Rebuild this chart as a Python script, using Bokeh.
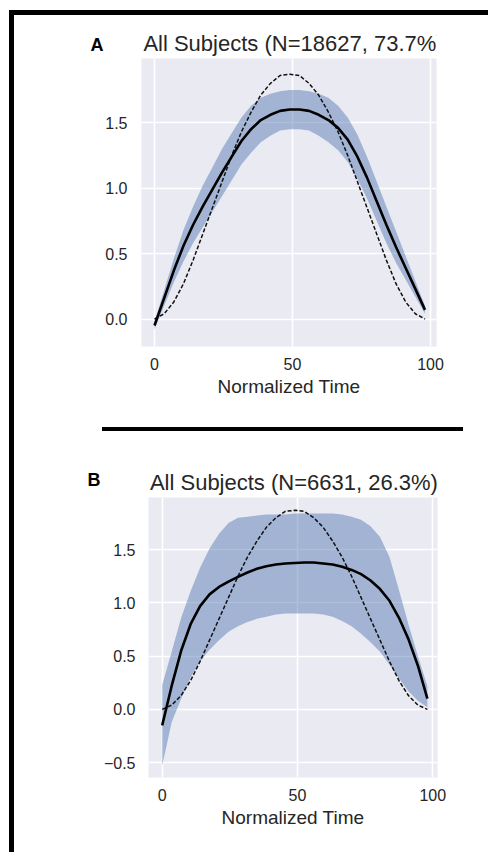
from bokeh.plotting import figure
from bokeh.models import Range1d, Label, Div, Spacer, FixedTicker, PrintfTickFormatter
from bokeh.layouts import column, row
from bokeh.embed import file_html
from bokeh.resources import INLINE

# ---------------- data ----------------
x = [0, 3.5, 7, 10.5, 14, 17.5, 21, 24.5, 28, 31.5, 35, 38.5, 42, 45.5, 49,
     52.5, 56, 59.5, 63, 66.5, 70, 73.5, 77, 80.5, 84, 87.5, 91, 94.5, 98]

# dashed reference profile (same in both panels)
reference = [0.00, 0.04, 0.13, 0.27, 0.45, 0.65, 0.85, 1.05, 1.25, 1.43, 1.58, 1.71, 1.80, 1.86, 1.87,
             1.86, 1.80, 1.71, 1.58, 1.43, 1.25, 1.05, 0.85, 0.65, 0.45, 0.27, 0.13, 0.04, 0.00]

# panel A
mean_a = [-0.05, 0.16, 0.37, 0.56, 0.72, 0.86, 0.99, 1.12, 1.24, 1.36, 1.45, 1.52, 1.56, 1.59, 1.60,
          1.60, 1.59, 1.56, 1.52, 1.46, 1.37, 1.24, 1.08, 0.90, 0.72, 0.55, 0.39, 0.23, 0.07]
upper_a = [-0.02, 0.22, 0.46, 0.68, 0.86, 1.02, 1.16, 1.30, 1.42, 1.54, 1.63, 1.69, 1.72, 1.74, 1.75,
           1.75, 1.74, 1.72, 1.69, 1.63, 1.54, 1.41, 1.24, 1.05, 0.86, 0.67, 0.48, 0.29, 0.10]
lower_a = [-0.08, 0.10, 0.28, 0.44, 0.58, 0.70, 0.82, 0.94, 1.06, 1.18, 1.27, 1.35, 1.40, 1.44, 1.45,
           1.45, 1.44, 1.40, 1.35, 1.29, 1.20, 1.07, 0.92, 0.75, 0.58, 0.43, 0.30, 0.17, 0.04]

# panel B
mean_b = [-0.15, 0.22, 0.55, 0.80, 0.97, 1.08, 1.15, 1.20, 1.245, 1.285, 1.32, 1.345, 1.36, 1.37, 1.375,
          1.38, 1.38, 1.37, 1.36, 1.34, 1.31, 1.27, 1.21, 1.13, 1.02, 0.86, 0.66, 0.41, 0.10]
upper_b = [0.23, 0.54, 0.86, 1.11, 1.33, 1.51, 1.65, 1.75, 1.80, 1.81, 1.82, 1.83, 1.83, 1.83, 1.84,
           1.84, 1.84, 1.84, 1.84, 1.83, 1.81, 1.78, 1.72, 1.62, 1.43, 1.12, 0.80, 0.50, 0.22]
lower_b = [-0.53, -0.12, 0.10, 0.30, 0.45, 0.56, 0.65, 0.73, 0.78, 0.82, 0.85, 0.87, 0.89, 0.90, 0.90,
           0.90, 0.90, 0.89, 0.87, 0.83, 0.78, 0.71, 0.63, 0.54, 0.42, 0.29, 0.17, 0.08, 0.02]

x_ticks = [0, 50, 100]
y_ticks_a = [0.0, 0.5, 1.0, 1.5]
y_tick_labels_a = ["0.0", "0.5", "1.0", "1.5"]
y_ticks_b = [-0.5, 0.0, 0.5, 1.0, 1.5]
y_tick_labels_b = ["\u22120.5", "0.0", "0.5", "1.0", "1.5"]

title_a = "All Subjects (N=18627, 73.7%)"
title_b = "All Subjects (N=6631, 26.3%)"
letters = ["A", "B"]
x_label = "Normalized Time"

# ---------------- styling / geometry ----------------
FONT = "Liberation Sans"
TXT = "#262626"
BG = "#EAEAF2"
BAND = "#4C72B0"
W = 474          # inner column width


def header(height, bl, br, title, title_x, title_y, letter, letter_y, letter_standoff):
    fw = W - bl - br
    h = figure(width=W, height=height, x_range=Range1d(0, fw), y_range=Range1d(0, height),
               min_border_left=bl, min_border_right=br, min_border_top=0, min_border_bottom=0,
               title=None, x_axis_location=None, y_axis_location="left",
               output_backend="svg", toolbar_location=None,
               background_fill_color="white", border_fill_color="white",
               outline_line_color=None)
    h.grid.visible = False
    ax = h.yaxis[0]
    ax.ticker = FixedTicker(ticks=[letter_y])
    ax.major_label_overrides = {letter_y: letter}
    ax.axis_line_color = None
    ax.major_tick_line_color = None
    ax.minor_tick_line_color = None
    ax.major_tick_out = 0
    ax.major_tick_in = 0
    ax.major_label_standoff = letter_standoff
    ax.major_label_text_font = FONT
    ax.major_label_text_font_size = "18px"
    ax.major_label_text_font_style = "bold"
    ax.major_label_text_color = "black"
    h.add_layout(Label(x=title_x, y=title_y, text=title, text_align="center",
                       text_baseline="middle", text_font=FONT,
                       text_font_size="22px", text_color=TXT))
    return h


def panel(mean, upper, lower, yticks, ylabels, *, height, bl, br, mb_bottom, xr, yr, ystand):
    p = figure(width=W, height=height, min_border_left=bl, min_border_right=br,
               min_border_top=0, min_border_bottom=mb_bottom, title=None,
               x_range=Range1d(*xr), y_range=Range1d(*yr),
               output_backend="svg", toolbar_location=None,
               background_fill_color=BG, border_fill_color="white",
               outline_line_color=None)
    p.varea(x=x, y1=lower, y2=upper, fill_color=BAND, fill_alpha=0.45)
    p.line(x, reference, line_color="#111111", line_width=1.5, line_dash="4 2")
    p.line(x, mean, line_color="black", line_width=2.6)

    p.xaxis.ticker = FixedTicker(ticks=x_ticks)
    p.yaxis.ticker = FixedTicker(ticks=yticks)
    p.yaxis.formatter = PrintfTickFormatter(format="%.1f")
    p.yaxis.major_label_overrides = dict(zip(yticks, ylabels))
    for ax in (p.xaxis, p.yaxis):
        ax.axis_line_color = None
        ax.major_tick_line_color = None
        ax.minor_tick_line_color = None
        ax.major_tick_out = 0
        ax.major_tick_in = 0
        ax.major_label_text_font = FONT
        ax.major_label_text_font_size = "16px"
        ax.major_label_text_color = TXT
    p.xaxis.major_label_standoff = 11
    p.yaxis.major_label_standoff = ystand
    p.xaxis.axis_label = x_label
    p.xaxis.axis_label_text_font = FONT
    p.xaxis.axis_label_text_font_size = "19px"
    p.xaxis.axis_label_text_font_style = "normal"
    p.xaxis.axis_label_text_color = TXT
    p.xaxis.axis_label_standoff = 3
    p.grid.grid_line_color = "white"
    p.grid.grid_line_width = 1.6
    p.xgrid.ticker = FixedTicker(ticks=x_ticks)
    p.ygrid.ticker = FixedTicker(ticks=yticks)
    return p


# panel A: frame at page x 141..436 ; panel B: frame at page x 148..437
hA = header(43, 127, 52, title_a, 152, 15, letters[0], 14, 38)
pA = panel(mean_a, upper_a, lower_a, y_ticks_a, y_tick_labels_a,
           height=369, bl=127, br=52, mb_bottom=81,
           xr=(-4.71, 102.17), yr=(-0.21, 1.99), ystand=14)
hB = header(66, 134, 51, title_b, 145.4, 15.2, letters[1], 17.5, 48)
pB = panel(mean_b, upper_b, lower_b, y_ticks_b, y_tick_labels_b,
           height=355, bl=134, br=51, mb_bottom=75,
           xr=(-5.06, 101.74), yr=(-0.64, 1.99), ystand=13)


def bar(w, h):
    return Div(text="", width=w, height=h, margin=0,
               styles={"background-color": "black"})


def gap(w, h):
    return Spacer(width=w, height=h, margin=0)


root = column(
    gap(488, 10),
    row(gap(9, 5), bar(479, 5), spacing=0),
    row(gap(9, 412), bar(5, 412), column(hA, pA, spacing=0), spacing=0),
    row(gap(9, 4), bar(5, 4), gap(88, 4), bar(361, 4), spacing=0),
    row(gap(9, 421), bar(5, 421), column(hB, pB, spacing=0), spacing=0),
    spacing=0,
)

open("out.html", "w").write(file_html(root, INLINE))
